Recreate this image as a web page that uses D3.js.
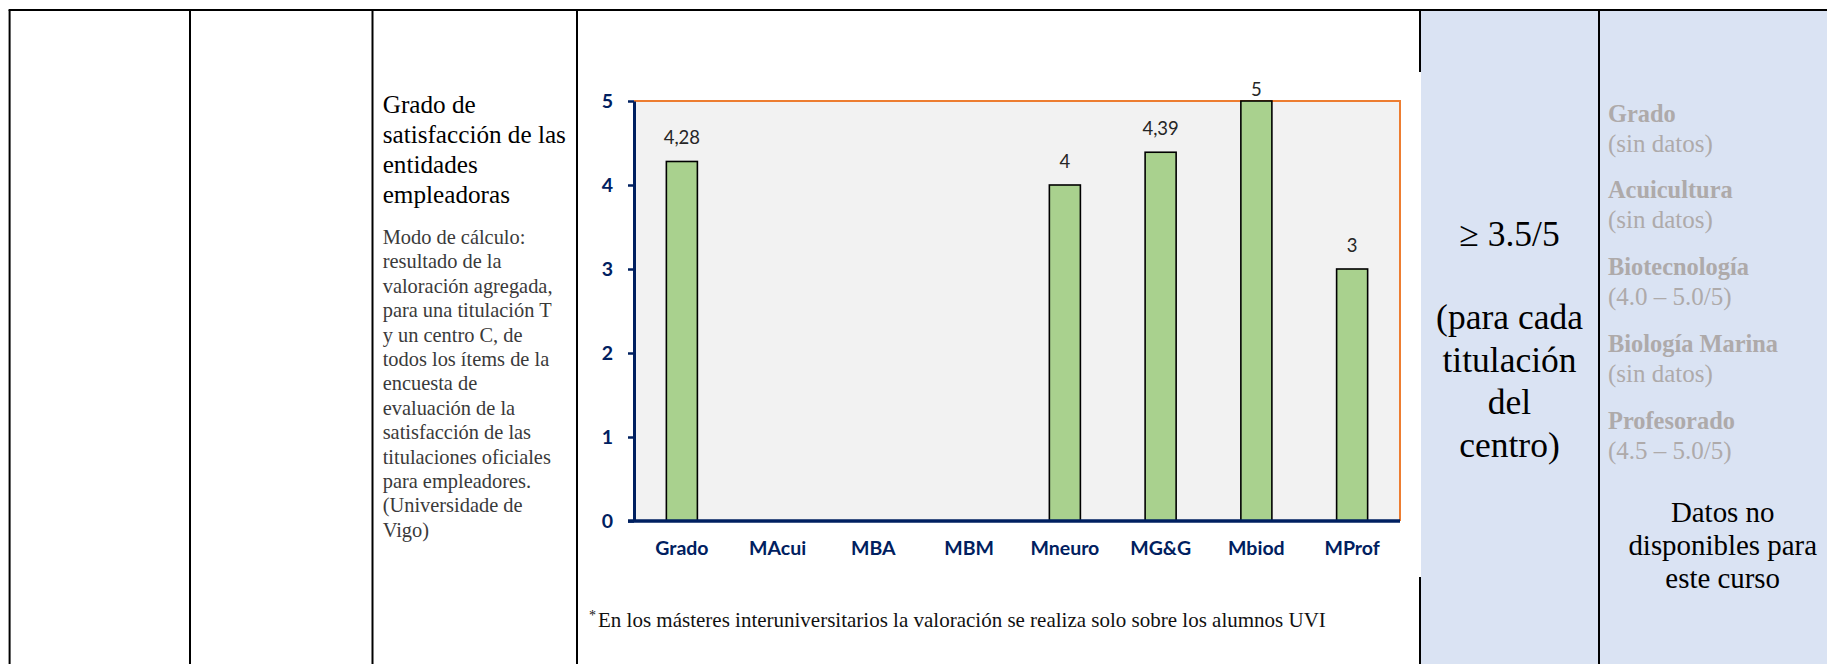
<!DOCTYPE html>
<html>
<head>
<meta charset="utf-8">
<script src="https://cdn.jsdelivr.net/npm/d3@7"></script>
<style>
  body { margin: 0; background: #fff; }
  .serif { font-family: "Liberation Serif", "Times New Roman", serif; }
  .axis text { font-family: Lato, "Open Sans", sans-serif; font-weight: bold; fill: #002060; }
</style>
</head>
<body>
<svg id="page" width="1827" height="664"></svg>
<script>
// chart data
const categories = ["Grado", "MAcui", "MBA", "MBM", "Mneuro", "MG&G", "Mbiod", "MProf"];
const values = [4.28, null, null, null, 4, 4.39, 5, 3];
const yTicks = [0, 1, 2, 3, 4, 5];

// table texts
const titleLines = ["Grado de", "satisfacción de las", "entidades", "empleadoras"];
const bodyLines = [
  "Modo de cálculo:", "resultado de la", "valoración agregada,", "para una titulación T",
  "y un centro C, de", "todos los ítems de la", "encuesta de", "evaluación de la",
  "satisfacción de las", "titulaciones oficiales", "para empleadores.", "(Universidade de", "Vigo)"
];
const targetHead = "≥ 3.5/5";
const targetLines = ["(para cada", "titulación", "del", "centro)"];
const centreNames = ["Grado", "Acuicultura", "Biotecnología", "Biología Marina", "Profesorado"];
const centreValues = ["(sin datos)", "(sin datos)", "(4.0 – 5.0/5)", "(sin datos)", "(4.5 – 5.0/5)"];
const noDataLines = ["Datos no", "disponibles para", "este curso"];
const footnote = "En los másteres interuniversitarios la valoración se realiza solo sobre los alumnos UVI";

const SERIF = "'Liberation Serif', 'Times New Roman', serif";
const svg = d3.select("#page");
const W = 1827, H = 664;
const colX = [9.6, 190, 372.5, 577, 1420, 1599];
const topY = 10;

function serifText(g, s, xx, yy, size) {
  return g.append("text").attr("x", xx).attr("y", yy)
    .style("font-family", SERIF).style("font-size", size + "px").text(s);
}

// blue cells
svg.append("rect").attr("x", colX[4]).attr("y", topY).attr("width", W - colX[4]).attr("height", H - topY)
  .attr("fill", "#DAE3F3");

// grid lines
svg.append("line").attr("x1", colX[0] - 1).attr("x2", W).attr("y1", topY).attr("y2", topY)
  .attr("stroke", "#000").attr("stroke-width", 2);
colX.forEach(x => {
  svg.append("line").attr("x1", x).attr("x2", x).attr("y1", topY).attr("y2", H)
    .attr("stroke", "#000").attr("stroke-width", 2);
});

// indicator name + method
const t = svg.append("g");
titleLines.forEach((s, i) => {
  serifText(t, s, 382.7, 112.7 + i * 30, 25.2).attr("fill", "#000");
});
bodyLines.forEach((s, i) => {
  serifText(t, s, 382.7, 244 + i * 24.4, 20.4).attr("fill", "#3a3a3a");
});

// footnote
const fn = svg.append("text").attr("x", 589).attr("y", 626.7)
  .style("font-family", SERIF).style("font-size", "21px").attr("fill", "#111");
fn.append("tspan").style("font-size", "14px").attr("dy", -7).text("*");
fn.append("tspan").attr("dy", 7).attr("dx", 2).text(footnote);

// target column
const cx4 = (colX[4] + colX[5]) / 2;
serifText(svg, targetHead, cx4, 245.7, 35.5).attr("text-anchor", "middle");
targetLines.forEach((s, i) => {
  serifText(svg, s, cx4, 329 + i * 42.5, 35.5).attr("text-anchor", "middle");
});

// centre values column
centreNames.forEach((s, i) => {
  const y0 = 121.7 + i * 76.7;
  serifText(svg, s, 1608, y0, 24.4).style("font-weight", "bold").attr("fill", "#AEAAAA");
  serifText(svg, centreValues[i], 1608, y0 + 30, 25).attr("fill", "#AEAAAA");
});
noDataLines.forEach((s, i) => {
  serifText(svg, s, 1722.7, 521.7 + i * 33.3, 28.9).attr("text-anchor", "middle").attr("fill", "#000");
});

// chart picture
svg.append("rect").attr("x", 579).attr("y", 72).attr("width", 842).attr("height", 505).attr("fill", "#fff");

const plot = { left: 634, right: 1400, top: 101, bottom: 521 };
const x = d3.scaleBand().domain(categories).range([plot.left, plot.right])
  .paddingInner(0.676).paddingOuter(0.338);
const y = d3.scaleLinear().domain([0, 5]).range([plot.bottom, plot.top]);

svg.append("rect").attr("x", plot.left).attr("y", plot.top)
  .attr("width", plot.right - plot.left).attr("height", plot.bottom - plot.top).attr("fill", "#F2F2F2");
svg.append("path").attr("d", `M${plot.left},${plot.top}H${plot.right}V${plot.bottom}`)
  .attr("fill", "none").attr("stroke", "#ED7D31").attr("stroke-width", 2);

const data = categories.map((c, i) => ({ c, v: values[i] })).filter(d => d.v != null);

svg.append("g").selectAll("rect").data(data).join("rect")
  .attr("x", d => x(d.c)).attr("y", d => y(d.v))
  .attr("width", x.bandwidth()).attr("height", d => y(0) - y(d.v))
  .attr("fill", "#A9D18E").attr("stroke", "#000").attr("stroke-width", 1.6);

svg.append("g").selectAll("text").data(data).join("text")
  .attr("x", d => x(d.c) + x.bandwidth() / 2)
  .attr("y", d => Math.max(y(d.v) - 17.5, 96))
  .attr("text-anchor", "middle")
  .style("font-family", "Lato, 'Open Sans', sans-serif")
  .style("font-size", "18.5px").attr("fill", "#262626")
  .text(d => String(d.v).replace(".", ","));

const yAxis = svg.append("g").attr("class", "axis").attr("transform", `translate(${plot.left},0)`)
  .call(d3.axisLeft(y).tickValues(yTicks).tickFormat(d3.format("d"))
    .tickSize(6).tickSizeOuter(0).tickPadding(15));
yAxis.selectAll("text").style("font-size", "19.5px");
yAxis.selectAll("line").attr("stroke", "#002060").attr("stroke-width", 2.5);
yAxis.select(".domain").attr("stroke", "#002060").attr("stroke-width", 3);

const xAxis = svg.append("g").attr("class", "axis").attr("transform", `translate(0,${plot.bottom})`)
  .call(d3.axisBottom(x).tickSize(0).tickSizeOuter(0));
xAxis.selectAll("text").style("font-size", "19.5px").attr("y", 34).attr("dy", 0);
xAxis.select(".domain").attr("stroke", "#002060").attr("stroke-width", 3.5)
  .attr("d", `M${plot.left - 6},0H${plot.right}`);
</script>
</body>
</html>
